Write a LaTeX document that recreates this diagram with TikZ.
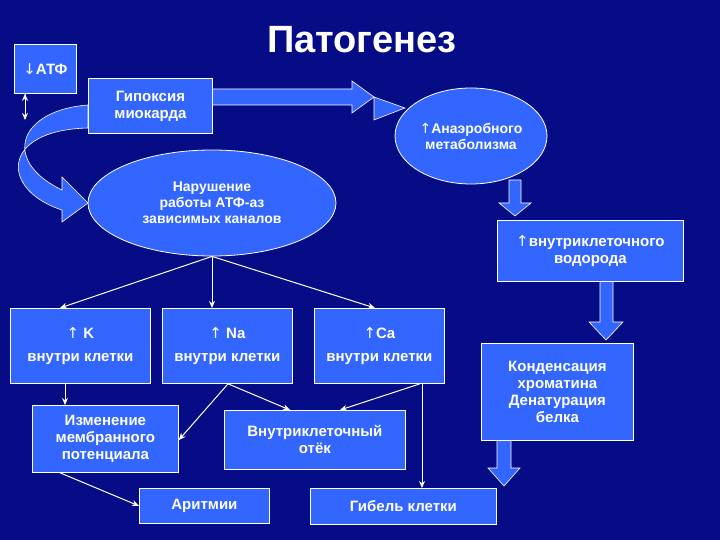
\documentclass[tikz,border=0pt]{standalone}
\usepackage{fontspec}
\setmainfont{Liberation Sans}
\newfontfamily\dv{DejaVu Sans}
\usetikzlibrary{shapes.geometric,arrows.meta}
\definecolor{bg}{HTML}{050C86}
\definecolor{bx}{HTML}{3366FF}
\newcommand{\up}{{\dv\mdseries\char"2191}}
\newcommand{\dn}{{\dv\mdseries\char"2193}}
\begin{document}
\begin{tikzpicture}[x=1pt,y=-1pt,
  box/.style={draw=white,line width=0.8pt,fill=bx,text=white,font=\bfseries\fontsize{15}{17}\selectfont,align=center,inner sep=0pt,anchor=north west},
  ell/.style={ellipse,draw=white,line width=0.8pt,fill=bx,text=white,font=\bfseries\fontsize{14}{16}\selectfont,align=center,inner sep=0pt},
  con/.style={draw=white,line width=1pt,-{Stealth[length=7pt,width=6pt]}},
  blk/.style={fill=bx,draw=white,line width=0.6pt}]
\fill[bg] (0,0) rectangle (720,540);
\useasboundingbox (0,0) rectangle (720,540);
\node[text=white,font=\bfseries\fontsize{38}{40}\selectfont] (title) at (362,40) {Патогенез};
% block arrows
\draw[blk] (212,89) -- (352,89) -- (352,81) -- (374,97) -- (352,113) -- (352,105) -- (212,105) -- cycle;
\draw[blk] (374,97) -- (405,108) -- (374,120) -- cycle;
\draw[blk] (88,105) .. controls (20,110) and (0,160) .. (62,190) -- (62,177) -- (88,203) -- (62,222) -- (62,210) .. controls (0,190) and (0,130) .. (88,128) -- cycle;
\draw[blk] (509,180) -- (521,180) -- (521,203) -- (531,203) -- (515,216) -- (499,203) -- (509,203) -- cycle;
\draw[blk] (600,281) -- (613,281) -- (613,322) -- (623,322) -- (606,340) -- (589,322) -- (600,322) -- cycle;
\draw[blk] (497,440) -- (511,440) -- (511,468) -- (520,468) -- (504,486) -- (488,468) -- (497,468) -- cycle;
% nodes
\node[box,minimum width=62,minimum height=49] (atf) at (14,44) {\dn АТФ};
\node[box,minimum width=124,minimum height=55] (hyp) at (88,78) {Гипоксия\\миокарда};
\node[ell,minimum width=152,minimum height=96] (anae) at (471,136) {\up Анаэробного\\метаболизма};
\node[ell,minimum width=248,minimum height=106] (nar) at (212,203) {Нарушение\\работы АТФ-аз\\зависимых каналов};
\node[box,minimum width=186,minimum height=61] (hyd) at (497,220) {\up внутриклеточного\\водорода};
\node[box,minimum width=152,minimum height=97] (kond) at (481,343) {Конденсация\\хроматина\\Денатурация\\белка};
\node[box,minimum width=140,minimum height=75] (k) at (10,308) {\up\ K\\[6pt]внутри клетки};
\node[box,minimum width=130,minimum height=75] (na) at (162,308) {\up\ Na\\[6pt]внутри клетки};
\node[box,minimum width=130,minimum height=75] (ca) at (314,308) {\up Ca\\[6pt]внутри клетки};
\node[box,minimum width=146,minimum height=67] (izm) at (32,405) {Изменение\\мембранного\\потенциала};
\node[box,minimum width=181,minimum height=59] (otek) at (224,410) {Внутриклеточный\\отёк};
\node[box,minimum width=130,minimum height=35] (arit) at (139,488) {Аритмии};
\node[box,minimum width=186,minimum height=36] (gib) at (310,488) {Гибель клетки};
% connectors
\coordinate (atfb) at (25,120);
\draw[con] (atf.south west) ++(11,0) coordinate (a1);
\draw[con] (a1) -- (atfb);
\draw[con] (nar.south) -- (k.north -| 60,0);
\draw[con] (nar.south) -- (na.north -| 212,0);
\draw[con] (nar.south) -- (ca.north -| 375,0);
\draw[con] (k.south -| 65,0) -- (izm.north -| 65,0);
\draw[con] (na.south -| 228,0) -- (izm.east |- 0,440);
\draw[con] (na.south -| 228,0) -- (otek.north -| 290,0);
\draw[con] (ca.south -| 420,0) -- (otek.north -| 340,0);
\draw[con] (ca.south -| 422,0) -- (gib.north -| 422,0);
\draw[con] (izm.south -| 60,0) -- (arit.west);
\end{tikzpicture}
\end{document}
